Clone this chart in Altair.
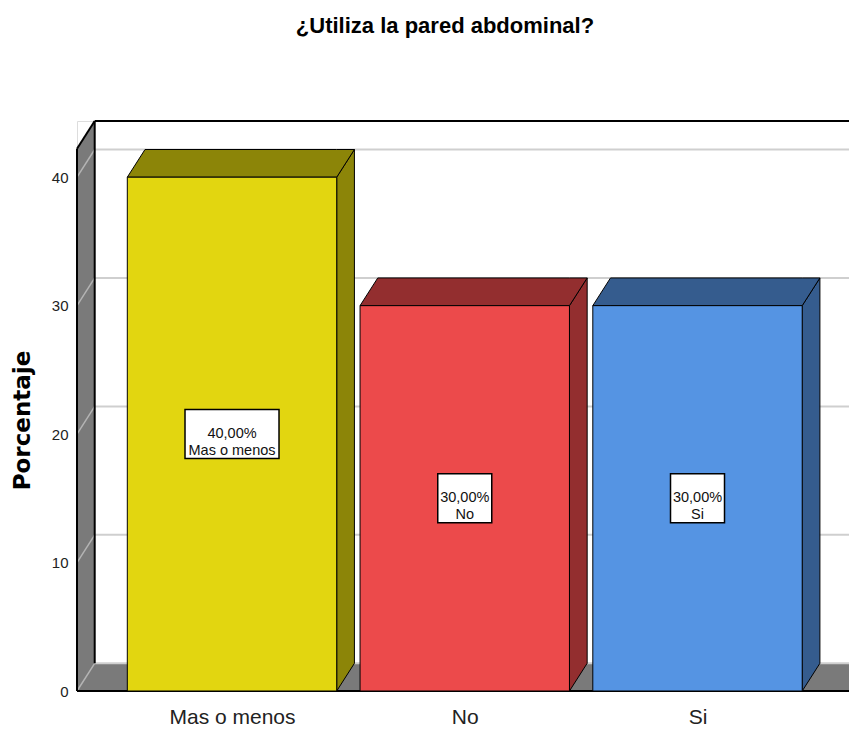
import altair as alt
import pandas as pd

# ---------------- data ----------------
categories = ["Mas o menos", "No", "Si"]
values = [40.0, 30.0, 30.0]
pct_labels = ["40,00%", "30,00%", "30,00%"]
y_ticks = [0, 10, 20, 30, 40]

front_colors = ["#E2D610", "#EC4A4B", "#5594E3"]
dark_colors = ["#8C8508", "#932E2F", "#355C8E"]

TITLE = "¿Utiliza la pared abdominal?"
Y_TITLE = "Porcentaje"

# ---------------- layout (pixels -> data units) ----------------
PLOT_W, PLOT_H = 772, 570
SLOT_PX = 232.75          # horizontal distance between bar centres
PX_PER_Y = 12.845         # pixels per percentage point (front plane)
X_MIN = -0.666
X_MAX = X_MIN + PLOT_W / SLOT_PX
Y_MAX = PLOT_H / PX_PER_Y
DX = 17.7 / SLOT_PX       # depth offset (x)
DY = 27.7 / PX_PER_Y      # depth offset (y)
HALF = 104.7 / SLOT_PX    # half bar width
WALL_TOP = Y_MAX - DY

xs = alt.Scale(domain=[X_MIN, X_MAX], nice=False, zero=False)
ys = alt.Scale(domain=[0, Y_MAX], nice=False, zero=False)

label_expr = "[" + ",".join(f"'{c}'" for c in categories) + "][round(datum.value)]"

x_axis = alt.Axis(values=[float(i) for i in range(len(categories))], labelExpr=label_expr,
                  title=None, ticks=False, tickSize=0, domain=False, grid=False,
                  labelFont="Liberation Sans", labelFontSize=21,
                  labelColor="#222222", labelPadding=15)
y_axis = alt.Axis(values=y_ticks, title=Y_TITLE, ticks=False, tickSize=0, domain=False,
                  grid=False, labelFont="Liberation Sans", labelFontSize=15,
                  labelColor="#222222", labelPadding=9,
                  titleFont="DejaVu Sans", titleFontSize=23, titleFontWeight="bold",
                  titleColor="#000000", titleAngle=-90, titleX=-55, titleY=299,
                  titleAlign="center", titleBaseline="middle")

# ---------------- walls ----------------
wall_df = pd.DataFrame({
    "x": [X_MIN, X_MIN + DX],
    "y": [WALL_TOP, Y_MAX],
    "y2": [0, DY],
})
floor_df = pd.DataFrame({
    "x": [X_MIN, X_MIN + DX, X_MAX],
    "y": [0, DY, DY],
    "y2": [0, 0, 0],
})
grid_back = pd.DataFrame({
    "x": [X_MIN + DX] * len(y_ticks),
    "x2": [X_MAX] * len(y_ticks),
    "y": [v + DY for v in y_ticks],
})
grid_side = pd.DataFrame({
    "x": [X_MIN] * len(y_ticks),
    "x2": [X_MIN + DX] * len(y_ticks),
    "y": [float(v) for v in y_ticks],
    "y2": [v + DY for v in y_ticks],
})
edges = pd.DataFrame({
    "x":  [X_MIN, X_MIN, X_MIN + DX, X_MIN + DX, X_MIN],
    "x2": [X_MIN, X_MIN + DX, X_MIN + DX, X_MAX, X_MAX],
    "y":  [0, WALL_TOP, DY, Y_MAX, 0],
    "y2": [WALL_TOP, Y_MAX, Y_MAX, Y_MAX, 0],
})

# ---------------- bars ----------------
front_rows, side_rows, top_rows, box_rows = [], [], [], []
for i, (c, v, p, fc, dc) in enumerate(zip(categories, values, pct_labels, front_colors, dark_colors)):
    front_rows.append({"cat": c, "x": i - HALF, "x2": i + HALF, "y": v, "y2": 0, "fill": fc})
    side_rows += [
        {"cat": c, "x": i + HALF, "y": v, "y2": 0, "fill": dc},
        {"cat": c, "x": i + HALF + DX, "y": v + DY, "y2": DY, "fill": dc},
    ]
    top_rows += [
        {"cat": c, "x": i - HALF, "y": v, "y2": v, "fill": dc},
        {"cat": c, "x": i - HALF + DX, "y": v + DY, "y2": v, "fill": dc},
        {"cat": c, "x": i + HALF, "y": v + DY, "y2": v, "fill": dc},
        {"cat": c, "x": i + HALF + DX, "y": v + DY, "y2": v + DY, "fill": dc},
    ]
    bw = (8.0 * max(len(p), len(c)) + 6) / SLOT_PX
    bh = 49 / PX_PER_Y
    box_rows.append({"cat": c, "xc": float(i), "x": i - bw / 2, "x2": i + bw / 2,
                     "yc": v / 2, "y": v / 2 - bh / 2, "y2": v / 2 + bh / 2,
                     "label": p + "\n" + c})

front_df = pd.DataFrame(front_rows)
side_df = pd.DataFrame(side_rows)
top_df = pd.DataFrame(top_rows)
box_df = pd.DataFrame(box_rows)

X = lambda f="x": alt.X(f"{f}:Q", scale=xs, axis=x_axis)
Y = lambda f="y": alt.Y(f"{f}:Q", scale=ys, axis=y_axis, stack=None)

wall = alt.Chart(wall_df).mark_area(color="#7A7A7A").encode(x=X(), y=Y(), y2="y2:Q")
floor = alt.Chart(floor_df).mark_area(color="#7A7A7A").encode(x=X(), y=Y(), y2="y2:Q")
gback = alt.Chart(grid_back).mark_rule(color="#CFCFCF", strokeWidth=2).encode(x=X(), x2="x2:Q", y=Y())
gside = alt.Chart(grid_side).mark_rule(color="#B4B4B4", strokeWidth=1.5).encode(
    x=X(), x2="x2:Q", y=Y(), y2="y2:Q")
edge = alt.Chart(edges).mark_rule(color="#000000", strokeWidth=2).encode(
    x=X(), x2="x2:Q", y=Y(), y2="y2:Q")

side = alt.Chart(side_df).mark_area(stroke="#000000", strokeWidth=1).encode(
    x=X(), y=Y(), y2="y2:Q", fill=alt.Fill("fill:N", scale=None), detail="cat:N")
top = alt.Chart(top_df).mark_area(stroke="#000000", strokeWidth=1).encode(
    x=X(), y=Y(), y2="y2:Q", fill=alt.Fill("fill:N", scale=None), detail="cat:N")
front = alt.Chart(front_df).mark_rect(stroke="#000000", strokeWidth=1).encode(
    x=X(), x2="x2:Q", y=Y(), y2="y2:Q", fill=alt.Fill("fill:N", scale=None))
box = alt.Chart(box_df).mark_rect(fill="#FFFFFF", stroke="#000000", strokeWidth=1.5).encode(
    x=X(), x2="x2:Q", y=Y(), y2="y2:Q")
txt = alt.Chart(box_df).mark_text(font="Liberation Sans", fontSize=14.5, color="#111111",
                                  lineBreak="\n", lineHeight=17, baseline="middle").encode(
    x=X("xc"), y=Y("yc"), text="label:N")

chart = alt.layer(wall, floor, gback, gside, edge, side, top, front, box, txt).properties(
    width=PLOT_W, height=PLOT_H,
    title=alt.TitleParams(TITLE, font="Liberation Sans", fontSize=22, fontWeight="bold",
                          color="#000000", anchor="middle", dx=-18, offset=60, baseline="bottom"),
    padding={"left": 69, "top": 113, "right": 0, "bottom": 40},
    autosize=alt.AutoSizeParams(type="none"),
).configure_view(stroke=None).configure(background="#FFFFFF")

chart.save("out.html", embed_options={"renderer": "svg", "actions": False})
